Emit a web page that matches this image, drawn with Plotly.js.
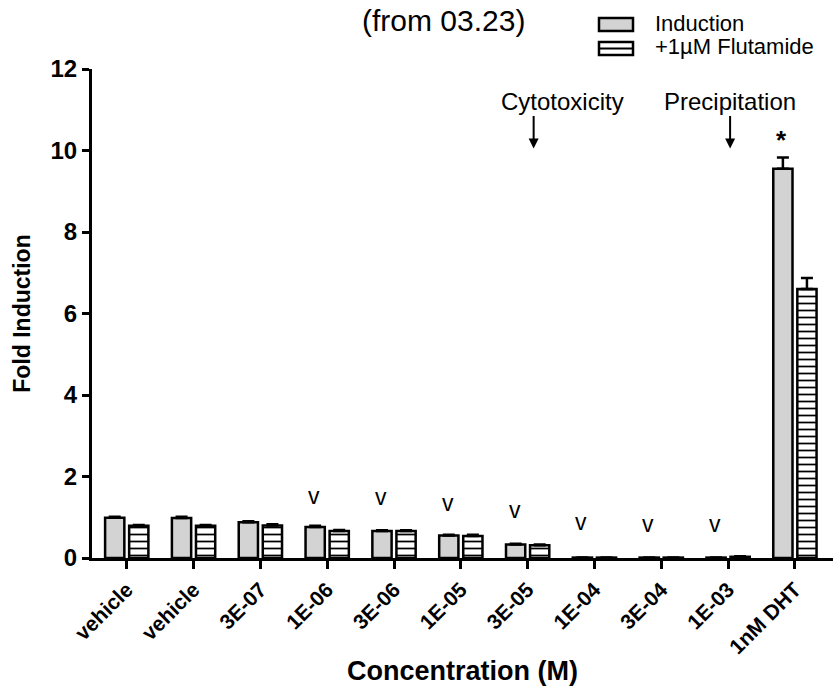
<!DOCTYPE html>
<html>
<head>
<meta charset="utf-8">
<script src="https://cdn.plot.ly/plotly-3.0.1.min.js"></script>
<style>html,body{margin:0;padding:0;background:#fff;}#chart{width:835px;height:692px;}</style>
</head>
<body>
<div id="chart"></div>
<script>
// ---- data ----
var xLabels = ['vehicle','vehicle','3E-07','1E-06','3E-06','1E-05','3E-05','1E-04','3E-04','1E-03','1nM DHT'];
var induction = [0.99, 0.98, 0.88, 0.76, 0.66, 0.55, 0.33, 0.01, 0.01, 0.01, 9.55];
var inductionErr = [0.02, 0.03, 0.02, 0.03, 0.02, 0.02, 0.02, 0.005, 0.005, 0.005, 0.28];
var flutamide = [0.79, 0.79, 0.80, 0.66, 0.66, 0.54, 0.31, 0.01, 0.01, 0.03, 6.60];
var flutamideErr = [0.02, 0.02, 0.03, 0.03, 0.02, 0.03, 0.02, 0.005, 0.005, 0.01, 0.27];
var markText = [null, null, null, 'v', 'v', 'v', 'v', 'v', 'v', 'v', '*'];
var markY = [null, null, null, 1.52, 1.50, 1.34, 1.19, 0.88, 0.83, 0.83, 10.25];
var noteLabels = ['Cytotoxicity', 'Precipitation'];
var noteIndex = [6, 9];
var seriesNames = ['Induction', '+1\u00b5M Flutamide'];

var xIdx = xLabels.map(function(_, i){ return i; });
var FONT = 'Arial, "Liberation Sans", sans-serif';

var traces = [
  {
    type: 'bar', name: seriesNames[0], x: xIdx, y: induction,
    marker: {color: '#d3d3d3', line: {color: '#000', width: 2.5}},
    error_y: {type: 'data', symmetric: false, array: inductionErr,
              arrayminus: inductionErr.map(function(){return 0;}),
              color: '#000', thickness: 2.5, width: 6}
  },
  {
    type: 'bar', name: seriesNames[1], x: xIdx, y: flutamide,
    marker: {color: '#ffffff', line: {color: '#000', width: 2.5},
             pattern: {shape: '-', fgcolor: '#000', bgcolor: '#fff', size: 7, solidity: 0.25}},
    error_y: {type: 'data', symmetric: false, array: flutamideErr,
              arrayminus: flutamideErr.map(function(){return 0;}),
              color: '#000', thickness: 2.5, width: 6}
  }
];

function px2x(px){ return (px - 92) / (833 - 92); }
function py2y(py){ return 1 + (69 - py) / (692 - 69 - 134); }

var annotations = [];
markText.forEach(function(t, i){
  if (t === null) return;
  annotations.push({
    x: i, y: markY[i], xref: 'x', yref: 'y', text: t, showarrow: false,
    xshift: -13, yanchor: 'middle',
    font: {family: FONT, size: t === '*' ? 26 : 23, color: '#000', weight: t === '*' ? 'bold' : 'normal'}
  });
});
noteIndex.forEach(function(idx, k){
  annotations.push({
    x: idx, y: 10.05, xref: 'x', yref: 'y', text: '', showarrow: true,
    ax: 0, ay: -34, arrowhead: 2, arrowsize: 1, arrowwidth: 2, arrowcolor: '#000',
    xshift: k === 0 ? 6 : 2
  });
  annotations.push({
    x: idx, y: py2y(101), xref: 'x', yref: 'paper', text: noteLabels[k], showarrow: false,
    xshift: k === 0 ? 35 : 2, yanchor: 'middle',
    font: {family: FONT, size: 24, color: '#000'}
  });
});

// title
annotations.push({xref: 'paper', yref: 'paper', x: px2x(443), y: py2y(20),
  text: '(from 03.23)', showarrow: false, xanchor: 'center', yanchor: 'middle',
  font: {family: FONT, size: 30, color: '#000'}});

// custom legend
var shapes = [];
shapes.push({type: 'rect', xref: 'paper', yref: 'paper', x0: px2x(599), x1: px2x(633), y0: py2y(31), y1: py2y(18),
  fillcolor: '#d3d3d3', line: {color: '#000', width: 2.5}});
shapes.push({type: 'rect', xref: 'paper', yref: 'paper', x0: px2x(599), x1: px2x(633), y0: py2y(55), y1: py2y(42),
  fillcolor: '#fff', line: {color: '#000', width: 2.5}});
shapes.push({type: 'line', xref: 'paper', yref: 'paper', x0: px2x(599), x1: px2x(633), y0: py2y(48.5), y1: py2y(48.5),
  line: {color: '#000', width: 2}});
seriesNames.forEach(function(n, k){
  annotations.push({xref: 'paper', yref: 'paper', x: px2x(653), y: py2y(k === 0 ? 23 : 47), text: n,
    showarrow: false, xanchor: 'left', yanchor: 'middle', font: {family: FONT, size: 22, color: '#000'}});
});

var layout = {
  width: 835, height: 692,
  margin: {l: 92, r: 2, t: 69, b: 134, pad: 0},
  paper_bgcolor: '#fff', plot_bgcolor: '#fff',
  showlegend: false,
  barmode: 'group', bargap: 0.28, bargroupgap: 0.2,
  font: {family: FONT, color: '#000'},
  xaxis: {
    range: [-0.52, 10.57], tickmode: 'array', tickvals: xIdx, ticktext: xLabels,
    tickangle: -45, ticks: 'outside', ticklen: 8, tickwidth: 3, tickcolor: '#000',
    showline: true, linecolor: '#000', linewidth: 3, showgrid: false, zeroline: false,
    automargin: false,
    tickfont: {family: FONT, size: 21, color: '#000', weight: 'bold'},
    title: {text: 'Concentration (M)', font: {family: FONT, size: 27, color: '#000', weight: 'bold'}, standoff: 4}
  },
  yaxis: {
    range: [0, 12], dtick: 2, ticks: 'outside', ticklen: 7, tickwidth: 3, tickcolor: '#000',
    showline: true, linecolor: '#000', linewidth: 3, showgrid: false, zeroline: false,
    automargin: false,
    tickfont: {family: FONT, size: 24, color: '#000', weight: 'bold'},
    title: {text: 'Fold Induction', font: {family: FONT, size: 23, color: '#000', weight: 'bold'}, standoff: 14}
  },
  annotations: annotations,
  shapes: shapes
};

Plotly.newPlot('chart', traces, layout, {displayModeBar: false, staticPlot: true});
</script>
</body>
</html>
